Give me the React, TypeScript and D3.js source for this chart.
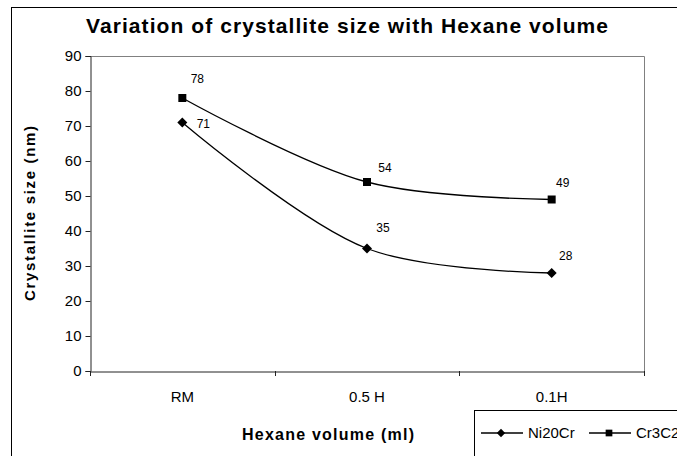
import React, { useEffect, useRef } from "react";
import * as d3 from "d3";

const categories = ["RM", "0.5 H", "0.1H"];
const ni20cr = [71, 35, 28];
const cr3c2 = [78, 54, 49];
const seriesNames = ["Ni20Cr", "Cr3C2"];
const yTicks = [0, 10, 20, 30, 40, 50, 60, 70, 80, 90];

// manual label nudges, as in the source chart
const niLabelOffsets = [[21, 1], [16, -21], [14, -17]];
const crLabelOffsets = [[15, -19], [18, -14], [11, -17]];

const W = 677;
const H = 456;
const margin = { left: 90, top: 56, right: 644, bottom: 371 };
const font = "Liberation Sans, Arial, sans-serif";

const App = () => {
  const ref = useRef<SVGGElement>(null);

  useEffect(() => {
    const g = d3.select(ref.current);
    g.selectAll("*").remove();

    const x = d3
      .scaleBand()
      .domain(categories)
      .range([margin.left, margin.right]);
    const y = d3.scaleLinear().domain([0, 90]).range([margin.bottom, margin.top]);

    // chart frame
    g.append("rect")
      .attr("x", 11.5)
      .attr("y", 7.5)
      .attr("width", 720)
      .attr("height", 520)
      .attr("fill", "white")
      .attr("stroke", "black");

    // plot area border (top/right gray)
    g.append("path")
      .attr("d", `M${margin.left},${margin.top + 0.5}H${margin.right + 0.5}V${margin.bottom}`)
      .attr("fill", "none")
      .attr("stroke", "#808080");

    // title
    g.append("text")
      .attr("x", 347)
      .attr("y", 33)
      .attr("text-anchor", "middle")
      .attr("font-family", font)
      .attr("font-weight", "bold")
      .attr("font-size", 21)
      .attr("textLength", 522)
      .attr("lengthAdjust", "spacing")
      .text("Variation of crystallite size with Hexane volume");

    // y axis
    const yAxis = g
      .append("g")
      .attr("transform", `translate(${margin.left + 0.5},0)`)
      .call(d3.axisLeft(y).tickValues(yTicks).tickSize(5).tickPadding(4));
    yAxis.select(".domain").attr("stroke", "#222");
    yAxis.selectAll("line").attr("stroke", "#222");
    yAxis
      .selectAll("text")
      .attr("font-family", font)
      .attr("font-size", 15)
      .attr("fill", "black");

    // x axis with ticks between categories
    const xAxis = g
      .append("g")
      .attr("transform", `translate(0,${margin.bottom + 0.5})`)
      .call(d3.axisBottom(x).tickSize(0).tickPadding(20));
    xAxis.select(".domain").attr("stroke", "#222");
    xAxis
      .selectAll("text")
      .attr("font-family", font)
      .attr("font-size", 15)
      .attr("fill", "black");
    const bounds = [...categories.map(c => x(c) as number), margin.right];
    g.selectAll("line.xtick")
      .data(bounds)
      .enter()
      .append("line")
      .attr("class", "xtick")
      .attr("x1", d => Math.round(d) + 0.5)
      .attr("x2", d => Math.round(d) + 0.5)
      .attr("y1", margin.bottom)
      .attr("y2", margin.bottom + 5)
      .attr("stroke", "#222");

    // axis titles
    g.append("text")
      .attr("x", 328)
      .attr("y", 440)
      .attr("text-anchor", "middle")
      .attr("font-family", font)
      .attr("font-weight", "bold")
      .attr("font-size", 16)
      .attr("textLength", 172)
      .attr("lengthAdjust", "spacing")
      .text("Hexane volume (ml)");
    g.append("text")
      .attr("transform", `translate(35,${(margin.top + margin.bottom) / 2}) rotate(-90)`)
      .attr("text-anchor", "middle")
      .attr("font-family", font)
      .attr("font-weight", "bold")
      .attr("font-size", 15)
      .attr("textLength", 175)
      .attr("lengthAdjust", "spacing")
      .text("Crystallite size (nm)");

    const cx = (i: number) => (x(categories[i]) as number) + x.bandwidth() / 2;
    const line = d3
      .line<number>()
      .x((d, i) => cx(i))
      .y(d => y(d))
      .curve(d3.curveCatmullRom.alpha(0.5));

    const diamond = d3.symbol(d3.symbolDiamond2, 64);
    const square = d3.symbol(d3.symbolSquare, 64);

    const drawSeries = (values: number[], sym: any, offsets: number[][]) => {
      g.append("path")
        .attr("d", line(values))
        .attr("fill", "none")
        .attr("stroke", "black")
        .attr("stroke-width", 1.3);
      g.selectAll(null)
        .data(values)
        .enter()
        .append("path")
        .attr("d", sym)
        .attr("transform", (d, i) => `translate(${cx(i)},${y(d)})`)
        .attr("fill", "black");
      g.selectAll(null)
        .data(values)
        .enter()
        .append("text")
        .attr("x", (d, i) => cx(i) + offsets[i][0])
        .attr("y", (d, i) => y(d) + offsets[i][1])
        .attr("text-anchor", "middle")
        .attr("dy", "0.35em")
        .attr("font-family", font)
        .attr("font-size", 12)
        .text(d => d);
    };
    drawSeries(ni20cr, diamond, niLabelOffsets);
    drawSeries(cr3c2, square, crLabelOffsets);

    // legend
    const lg = g.append("g");
    lg.append("rect")
      .attr("x", 474.5)
      .attr("y", 410.5)
      .attr("width", 300)
      .attr("height", 100)
      .attr("fill", "white")
      .attr("stroke", "black");
    const legendItems = [
      { name: seriesNames[0], sym: d3.symbol(d3.symbolDiamond2, 45), x0: 481 },
      { name: seriesNames[1], sym: d3.symbol(d3.symbolSquare, 45), x0: 589 }
    ];
    legendItems.forEach(it => {
      lg.append("line")
        .attr("x1", it.x0)
        .attr("x2", it.x0 + 42)
        .attr("y1", 433)
        .attr("y2", 433)
        .attr("stroke", "black")
        .attr("stroke-width", 1.3);
      lg.append("path")
        .attr("d", it.sym)
        .attr("transform", `translate(${it.x0 + 20},433)`)
        .attr("fill", "black");
      lg.append("text")
        .attr("x", it.x0 + 47)
        .attr("y", 433)
        .attr("dy", "0.35em")
        .attr("font-family", font)
        .attr("font-size", 15)
        .text(it.name);
    });
  }, []);

  return (
    <svg
      width={W}
      height={H}
      style={{ position: "absolute", left: 0, top: 0, background: "white" }}
    >
      <g ref={ref} />
    </svg>
  );
};

export default App;
